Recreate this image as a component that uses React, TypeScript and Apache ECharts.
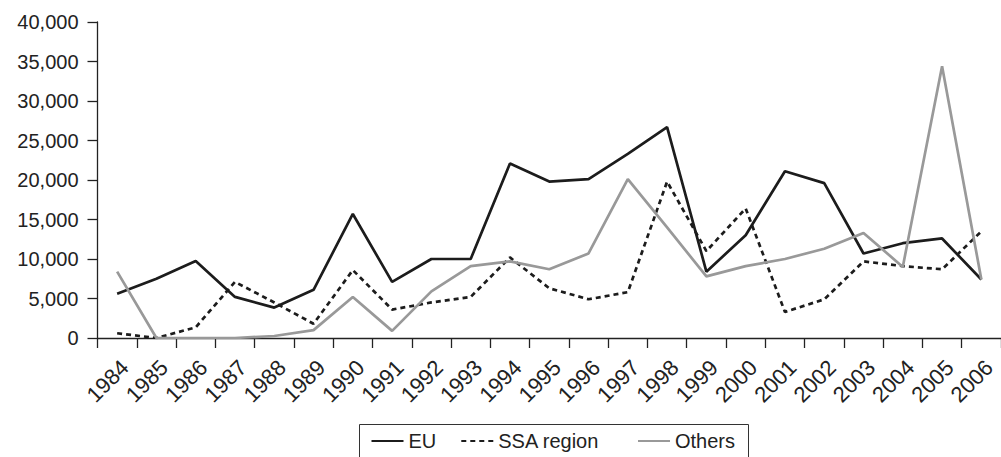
import React, { useEffect, useRef } from "react";
import * as echarts from "echarts";

const years = [
  "1984", "1985", "1986", "1987", "1988", "1989", "1990", "1991", "1992", "1993", "1994", "1995",
  "1996", "1997", "1998", "1999", "2000", "2001", "2002", "2003", "2004", "2005", "2006",
];
const euValues = [5600, 7500, 9750, 5200, 3850, 6100, 15700, 7100, 10000, 10000, 22100, 19800, 20100, 23300, 26700, 8400, 13000, 21100, 19600, 10700, 12000, 12600, 7400];
const ssaValues = [600, 0, 1350, 7100, 4500, 1800, 8600, 3600, 4500, 5200, 10200, 6300, 4900, 5800, 19800, 11000, 16400, 3300, 4900, 9700, 9100, 8700, 13500];
const othersValues = [8400, 0, 0, 0, 250, 1000, 5200, 900, 5900, 9100, 9700, 8700, 10700, 20100, 14000, 7800, 9100, 10000, 11300, 13300, 9000, 34400, 7400];
const seriesNames = ["EU", "SSA region", "Others"];

const FONT = "'Liberation Sans', Arial, Helvetica, sans-serif";
const INK = "#222222";

const legendBase = {
  orient: "horizontal",
  top: 431,
  padding: 0,
  itemGap: 24,
  itemWidth: 32,
  itemHeight: 14,
  itemStyle: { opacity: 0 },
  textStyle: { fontFamily: FONT, fontSize: 20, color: INK },
};

export default function App() {
  const ref = useRef<HTMLDivElement>(null);
  useEffect(() => {
    if (!ref.current) return;
    const chart = echarts.init(ref.current, undefined, { renderer: "svg" });
    chart.setOption({
      animation: false,
      backgroundColor: "#ffffff",
      grid: { left: 97.5, top: 22, width: 911.5, height: 316, containLabel: false },
      legend: [
        { ...legendBase, data: [seriesNames[0], seriesNames[1]], left: 370.5 },
        { ...legendBase, data: [seriesNames[2]], left: 637 },
      ],
      graphic: [
        {
          type: "rect",
          shape: { x: 359.5, y: 424.5, width: 389, height: 50 },
          style: { fill: "none", stroke: "#333333", lineWidth: 1 },
          silent: true,
        },
      ],
      xAxis: {
        type: "category",
        data: years,
        boundaryGap: true,
        axisLine: { show: true, lineStyle: { color: INK, width: 1.3 } },
        axisTick: { show: true, length: 10, inside: false, lineStyle: { color: INK, width: 1.3 } },
        axisLabel: {
          rotate: 45,
          margin: 18,
          interval: 0,
          verticalAlign: "top",
          fontFamily: FONT,
          fontSize: 22,
          color: INK,
        },
        splitLine: { show: false },
      },
      yAxis: {
        type: "value",
        min: 0,
        max: 40000,
        interval: 5000,
        axisLine: { show: true, lineStyle: { color: INK, width: 1.3 } },
        axisTick: { show: true, length: 10, inside: false, lineStyle: { color: INK, width: 1.3 } },
        axisLabel: {
          margin: 19,
          fontFamily: FONT,
          fontSize: 20,
          color: INK,
          formatter: (v: number) => v.toLocaleString("en-US"),
        },
        splitLine: { show: false },
      },
      series: [
        {
          name: seriesNames[0],
          type: "line",
          data: euValues,
          symbol: "none",
          lineStyle: { color: "#1c1c1c", width: 2.7, type: "solid" },
          itemStyle: { color: "#1c1c1c" },
        },
        {
          name: seriesNames[1],
          type: "line",
          data: ssaValues,
          symbol: "none",
          lineStyle: { color: "#1c1c1c", width: 2.7, type: [5, 4] },
          itemStyle: { color: "#1c1c1c" },
        },
        {
          name: seriesNames[2],
          type: "line",
          data: othersValues,
          symbol: "none",
          lineStyle: { color: "#999999", width: 2.7, type: "solid" },
          itemStyle: { color: "#999999" },
        },
      ],
    });
    return () => chart.dispose();
  }, []);
  return (
    <div
      ref={ref}
      style={{ position: "absolute", left: 0, top: 0, width: "1001px", height: "457px", background: "#fff" }}
    />
  );
}
